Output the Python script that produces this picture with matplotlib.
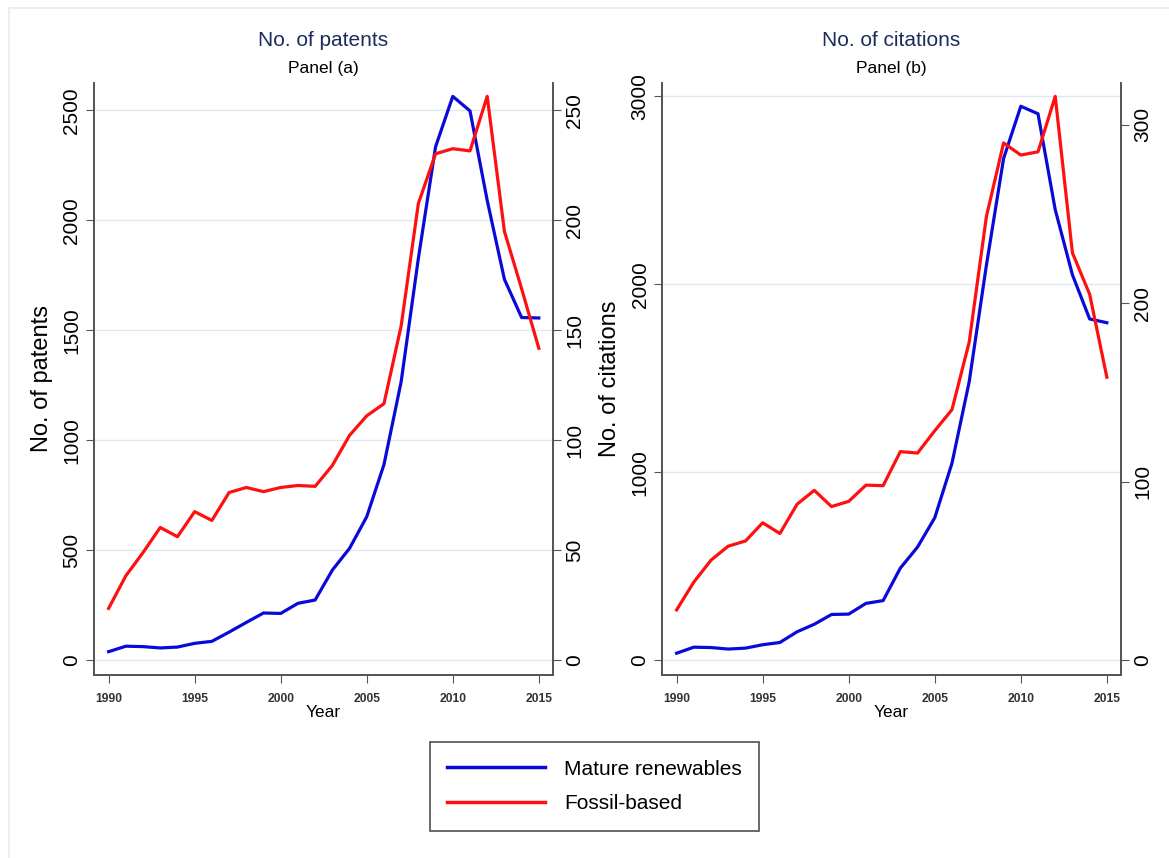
import matplotlib
matplotlib.use("Agg")
import matplotlib.pyplot as plt
from matplotlib.lines import Line2D

plt.rcParams["font.family"] = ["Liberation Sans", "DejaVu Sans"]

years = list(range(1990, 2016))

# panel (a): patents (renewables left axis, fossil right axis)
patents_renew = [38, 63, 61, 55, 59, 76, 85, 127, 171, 214, 212, 258, 273, 409,
                 508, 652, 889, 1266, 1827, 2335, 2564, 2498, 2091, 1732, 1558, 1556]
patents_fossil = [23.5, 38.3, 48.9, 60.3, 56.1, 67.5, 63.5, 76.2, 78.5, 76.6, 78.5,
                  79.4, 79.0, 88.5, 102.2, 111.1, 116.6, 152, 207.7, 230.3, 232.6,
                  231.6, 256.4, 195, 168.9, 141.8]

# panel (b): citations
cites_renew = [37, 69, 67, 59, 64, 82, 94, 151, 191, 243, 245, 302, 317, 490,
               602, 758, 1048, 1481, 2101, 2670, 2948, 2908, 2398, 2051, 1816, 1796]
cites_fossil = [28.2, 43.8, 56.1, 63.9, 66.8, 77.0, 71.0, 87.4, 95.2, 86.1, 89.0,
                98.1, 97.8, 116.9, 116.1, 128.6, 140.4, 178.2, 248.6, 289.9, 283.1,
                284.9, 316, 228.3, 205.1, 158.6]

series_names = ["Mature renewables", "Fossil-based"]
blue = "#0a0ad8"
red = "#ff1010"
navy = "#1c2c5c"
spine_col = "#555555"
grid_col = "#dde9f0"

fig = plt.figure(figsize=(11.69, 8.58), dpi=100)

# faint outer border like the original export
fig.add_artist(Line2D([0.0077, 0.0077], [0, 0.9907], color="#e3eef6", lw=1.2))
fig.add_artist(Line2D([0.0077, 1.0], [0.9907, 0.9907], color="#e3eef6", lw=1.2))


def make_panel(rect, left_vals, right_vals, title, sub, ylabel,
               lticks, rticks, lylim, rylim):
    ax = fig.add_axes(rect)
    ax.plot(years, left_vals, color=blue, lw=2.3, zorder=3)
    ax.set_xlim(1989.15, 2015.82)
    ax.set_ylim(*lylim)
    ax.set_yticks(lticks)
    ax.set_xticks([1990, 1995, 2000, 2005, 2010, 2015])
    ax.grid(axis="y", color=grid_col, lw=1.0)
    ax.set_axisbelow(True)
    ax.spines["top"].set_visible(False)
    for s in ["left", "bottom", "right"]:
        ax.spines[s].set_color(spine_col)
        ax.spines[s].set_linewidth(1.3)
    ax.tick_params(axis="y", labelsize=15, rotation=90, length=6,
                   color=spine_col, pad=3)
    for lab in ax.get_yticklabels():
        lab.set_va("center")
    ax.tick_params(axis="x", labelsize=8.7, length=6, color=spine_col, pad=7)
    for lab in ax.get_xticklabels():
        lab.set_fontweight("bold")
        lab.set_color("#333333")
    ax.set_xlabel("Year", fontsize=12.5, labelpad=0)
    ax.set_ylabel(ylabel, fontsize=17, labelpad=7)

    ax2 = ax.twinx()
    ax2.plot(years, right_vals, color=red, lw=2.3, zorder=3)
    ax2.set_ylim(*rylim)
    ax2.set_yticks(rticks)
    ax2.spines["top"].set_visible(False)
    for s in ["left", "bottom", "right"]:
        ax2.spines[s].set_color(spine_col)
        ax2.spines[s].set_linewidth(1.3)
    ax2.tick_params(axis="y", labelsize=15, rotation=90, length=6,
                    color=spine_col, pad=3)
    for lab in ax2.get_yticklabels():
        lab.set_va("center")

    ax.text(0.5, 1.024, sub, transform=ax.transAxes, ha="center",
            va="center", fontsize=12.5)
    ax.text(0.5, 1.071, title, transform=ax.transAxes, ha="center",
            va="center", fontsize=15, color=navy)
    return ax


make_panel([0.0804, 0.2133, 0.3926, 0.69], patents_renew, patents_fossil,
           "No. of patents", "Panel (a)", "No. of patents",
           [0, 500, 1000, 1500, 2000, 2500], [0, 50, 100, 150, 200, 250],
           (-68, 2625), (-6.8, 262.5))

make_panel([0.5663, 0.2133, 0.3926, 0.69], cites_renew, cites_fossil,
           "No. of citations", "Panel (b)", "No. of citations",
           [0, 1000, 2000, 3000], [0, 100, 200, 300],
           (-79, 3072), (-8.3, 323.5))

handles = [Line2D([], [], color=blue, lw=2.5), Line2D([], [], color=red, lw=2.5)]
leg = fig.legend(handles, series_names, loc="center",
                 bbox_to_anchor=(0.5086, 0.0834), fontsize=15,
                 frameon=True, fancybox=False, handlelength=4.7,
                 handletextpad=0.9, borderpad=0.85, labelspacing=0.75,
                 borderaxespad=0)
leg.get_frame().set_edgecolor("#222222")
leg.get_frame().set_linewidth(1.2)

fig.savefig("out.png", dpi=100)
